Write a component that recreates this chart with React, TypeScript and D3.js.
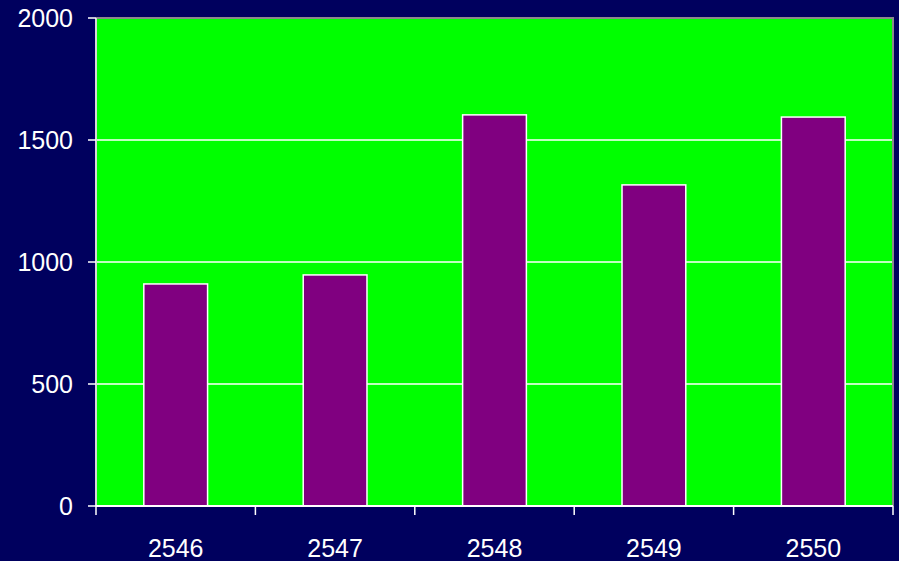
import React, { useEffect, useRef } from 'react';
import * as d3 from 'd3';

const years = ['2546', '2547', '2548', '2549', '2550'];
const counts = [910, 947, 1603, 1316, 1594];
const yTicks = [0, 500, 1000, 1500, 2000];

const App: React.FC = () => {
    const svgRef = useRef<SVGSVGElement | null>(null);

    useEffect(() => {
        const svg = d3.select(svgRef.current);
        svg.selectAll('*').remove();

        const width = 899;
        const height = 561;
        const margin = { top: 18, right: 6, bottom: 55, left: 96 };
        const w = width - margin.left - margin.right;
        const h = height - margin.top - margin.bottom;

        svg.append('rect').attr('width', width).attr('height', height).attr('fill', '#00005e');

        const g = svg.append('g').attr('transform', `translate(${margin.left},${margin.top})`);

        const x = d3.scaleBand().domain(years).range([0, w]).padding(0);
        const y = d3.scaleLinear().domain([0, 2000]).range([h, 0]);

        // plot area
        g.append('rect').attr('width', w).attr('height', h).attr('fill', '#00ff00');

        // gridlines
        g.selectAll('.grid')
            .data(yTicks.filter(t => t > 0 && t < 2000))
            .enter().append('line')
            .attr('x1', 0).attr('x2', w)
            .attr('y1', d => y(d)).attr('y2', d => y(d))
            .attr('stroke', '#ffffff').attr('stroke-width', 1.5);

        // top and right border
        g.append('path')
            .attr('d', `M0,${y(2000)}H${w}V${h}`)
            .attr('fill', 'none').attr('stroke', '#8a8a8a').attr('stroke-width', 2);

        // bars
        const barW = x.bandwidth() * 0.4;
        g.selectAll('.bar')
            .data(counts)
            .enter().append('rect')
            .attr('x', (d, i) => (x(years[i]) || 0) + (x.bandwidth() - barW) / 2)
            .attr('y', d => y(d))
            .attr('width', barW)
            .attr('height', d => h - y(d))
            .attr('fill', '#800080')
            .attr('stroke', '#ffffff')
            .attr('stroke-width', 1.5);

        // y axis
        g.append('line').attr('x1', 0).attr('x2', 0).attr('y1', 0).attr('y2', h)
            .attr('stroke', '#d8d8d8').attr('stroke-width', 2);
        g.selectAll('.ytick')
            .data(yTicks)
            .enter().append('line')
            .attr('x1', -8).attr('x2', 0)
            .attr('y1', d => y(d)).attr('y2', d => y(d))
            .attr('stroke', '#ffffff').attr('stroke-width', 1.5);
        g.selectAll('.ylabel')
            .data(yTicks)
            .enter().append('text')
            .attr('x', -23)
            .attr('y', d => y(d))
            .attr('dy', '0.36em')
            .attr('text-anchor', 'end')
            .attr('fill', '#ffffff')
            .attr('font-family', 'Liberation Sans, Arial, sans-serif')
            .attr('font-size', 25)
            .text(d => String(d));

        // x axis
        g.append('line').attr('x1', 0).attr('x2', w).attr('y1', h).attr('y2', h)
            .attr('stroke', '#ffffff').attr('stroke-width', 2);
        const bounds = years.map(yr => x(yr) || 0).concat([w]);
        g.selectAll('.xtick')
            .data(bounds)
            .enter().append('line')
            .attr('x1', d => d).attr('x2', d => d)
            .attr('y1', h).attr('y2', h + 9)
            .attr('stroke', '#ffffff').attr('stroke-width', 1.5);
        g.selectAll('.xlabel')
            .data(years)
            .enter().append('text')
            .attr('x', d => (x(d) || 0) + x.bandwidth() / 2)
            .attr('y', h + 51)
            .attr('text-anchor', 'middle')
            .attr('fill', '#ffffff')
            .attr('font-family', 'Liberation Sans, Arial, sans-serif')
            .attr('font-size', 25)
            .text(d => d);
    }, []);

    return <svg ref={svgRef} width={899} height={561} style={{ position: 'absolute', left: 0, top: 0 }}></svg>;
};

export default App;
